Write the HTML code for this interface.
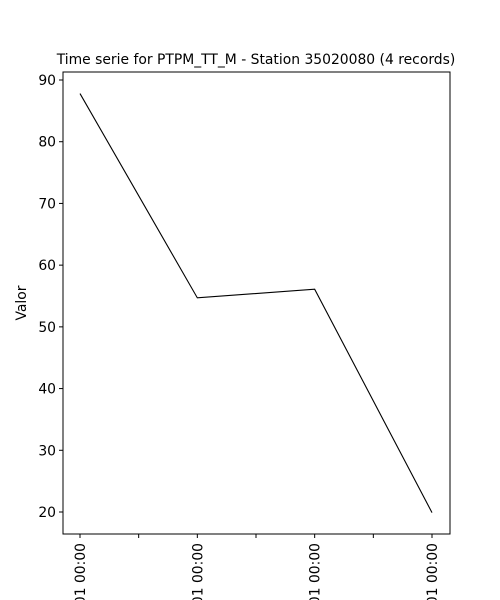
<!DOCTYPE html>
<html><head><meta charset="utf-8"><style>html,body{margin:0;background:#fff;width:500px;height:600px;overflow:hidden}svg{display:block}text{font-family:"DejaVu Sans","Liberation Sans",sans-serif;fill:#000}</style></head>
<body>
<svg width="500" height="600">
<g id="g"></g>
</svg>
<script>
const categories=["2020-01-01 00:00","2020-02-01 00:00","2020-03-01 00:00","2020-04-01 00:00"];
const values=[87.8,54.7,56.1,19.9];
const yTicks=[20,30,40,50,60,70,80,90];
const L=63,R=450,T=72,B=534;
const xs=i=>80+i*(432-80)/(categories.length-1);
const ys=v=>512-(v-20)*(512-80)/70;
const ns="http://www.w3.org/2000/svg";
const g=document.getElementById('g');
function mk(t,a,txt){const e=document.createElementNS(ns,t);for(const k in a)e.setAttribute(k,a[k]);if(txt!=null)e.textContent=txt;g.appendChild(e);return e;}
let e;
e=mk('text',{x:256,y:64,'text-anchor':'middle','font-size':13.9},'Time serie for PTPM_TT_M - Station 35020080 (4 records)');


e=mk('text',{x:0,y:0,transform:'translate(26,303) rotate(-90)','text-anchor':'middle','font-size':13.9},'Valor');


yTicks.forEach(v=>{
 const y=ys(v);
 e=mk('line',{x1:L-4,x2:L,y1:y,y2:y,stroke:'#000','stroke-width':1});
 
 
 e=mk('text',{x:L-7,y:y+5,'text-anchor':'end','font-size':13.9},String(v));
 
 
});
categories.forEach((c,i)=>{
 const x=xs(i);
 e=mk('line',{x1:x,x2:x,y1:B,y2:B+4,stroke:'#000','stroke-width':1});
 
 
 e=mk('text',{x:0,y:0,transform:`translate(${x+5},543) rotate(-90)`,'text-anchor':'end','font-size':13.9},c);
 
 
 if(i<categories.length-1){
  const xm=(xs(i)+xs(i+1))/2;
  e=mk('line',{x1:xm,x2:xm,y1:B,y2:B+4,stroke:'#000','stroke-width':1});
  
  
 }
});
e=mk('polyline',{points:values.map((v,i)=>xs(i)+','+ys(v)).join(' '),fill:'none',stroke:'#000','stroke-width':1.1});


e=mk('rect',{x:L,y:T,width:R-L,height:B-T,fill:'none',stroke:'#000','stroke-width':1});


</script>
</body></html>
